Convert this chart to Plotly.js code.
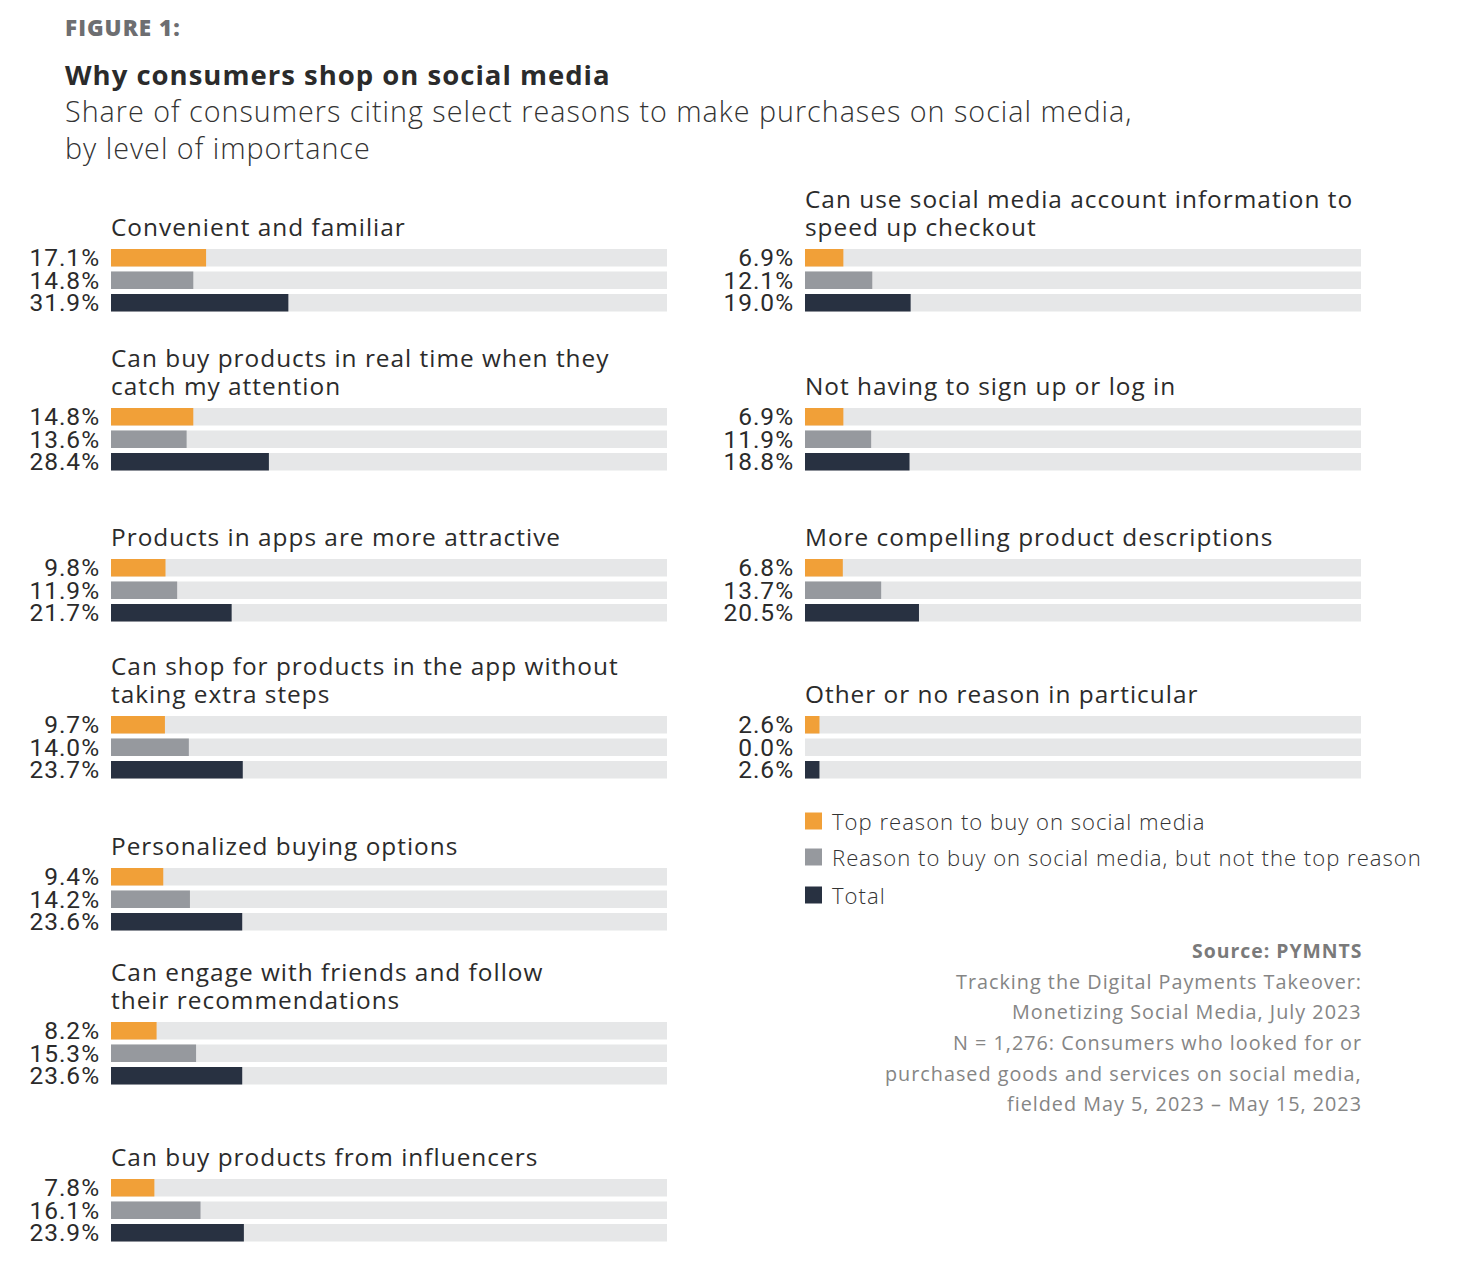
<!DOCTYPE html>
<html><head><meta charset="utf-8">
<script src="https://cdn.plot.ly/plotly-3.0.1.min.js"></script>
<style>html,body{margin:0;padding:0;background:#fff}#chart{width:1460px;height:1270px}
svg text{letter-spacing:1px}</style>
</head><body><div id="chart"></div>
<script>
// ---------- DATA ----------
const reasons = [
  "Convenient and familiar",
  "Can buy products in real time when they\ncatch my attention",
  "Products in apps are more attractive",
  "Can shop for products in the app without\ntaking extra steps",
  "Personalized buying options",
  "Can engage with friends and follow\ntheir recommendations",
  "Can buy products from influencers",
  "Can use social media account information to\nspeed up checkout",
  "Not having to sign up or log in",
  "More compelling product descriptions",
  "Other or no reason in particular"
];
const topReason    = [17.1, 14.8, 9.8, 9.7, 9.4, 8.2, 7.8, 6.9, 6.9, 6.8, 2.6];
const notTopReason = [14.8, 13.6, 11.9, 14.0, 14.2, 15.3, 16.1, 12.1, 11.9, 13.7, 0.0];
const totalShare   = [31.9, 28.4, 21.7, 23.7, 23.6, 23.6, 23.9, 19.0, 18.8, 20.5, 2.6];
const seriesNames  = ["Top reason to buy on social media",
                      "Reason to buy on social media, but not the top reason",
                      "Total"];
const fullScale = 100;
const sourceLines = [
  "Tracking the Digital Payments Takeover:",
  "Monetizing Social Media, July 2023",
  "N = 1,276: Consumers who looked for or",
  "purchased goods and services on social media,",
  "fielded May 5, 2023 \u2013 May 15, 2023"
];

// ---------- STYLE / LAYOUT ----------
const W = 1460, H = 1270;
const seriesColors = ["#F1A038", "#96999E", "#283141"];
const trackColor = "#E6E7E8";
const TXT = "'Open Sans', Roboto, sans-serif";
const NUM = "Roboto, 'Open Sans', sans-serif";
const colX = [[111, 667], [805, 1361]];
const panelCol = [0,0,0,0,0,0,0,1,1,1,1];
const panelTopPx = [249,408,559,716,868,1022,1179,249,408,559,716];
const pitch = 22.5;

const px = x => x / W;
const py = y => 1 - y / H;

const data = [];
const layout = {
  width: W, height: H,
  margin: {l:0, r:0, t:0, b:0},
  paper_bgcolor: "#fff", plot_bgcolor: "rgba(0,0,0,0)",
  showlegend: false,
  barmode: "overlay",
  bargap: 0.22,
  annotations: [], shapes: [],
  font: {family: TXT, color: "#2b2b2b"}
};

reasons.forEach((name, i) => {
  const k = i + 1;
  const xa = "x" + (k === 1 ? "" : k), ya = "y" + (k === 1 ? "" : k);
  const xKey = "xaxis" + (k === 1 ? "" : k), yKey = "yaxis" + (k === 1 ? "" : k);
  const vals = [topReason[i], notTopReason[i], totalShare[i]];
  const [x0, x1] = colX[panelCol[i]];
  const top = panelTopPx[i] - (pitch - 17.5) / 2;
  const bottom = top + 3 * pitch;

  data.push({
    type: "bar", orientation: "h", xaxis: xa, yaxis: ya,
    x: vals.map(() => fullScale), y: [0,1,2],
    marker: {color: trackColor, line: {width: 0}}, hoverinfo: "skip"
  });
  data.push({
    type: "bar", orientation: "h", xaxis: xa, yaxis: ya,
    x: vals, y: [0,1,2], name: name.replace("\n", " "),
    marker: {color: seriesColors, line: {width: 0}},
    hovertemplate: "%{x:.1f}%<extra></extra>"
  });

  layout[xKey] = {
    domain: [px(x0), px(x1)], range: [0, fullScale], anchor: ya,
    showgrid: false, zeroline: false, showticklabels: false, showline: false, fixedrange: true
  };
  layout[yKey] = {
    domain: [py(bottom), py(top)], range: [2.5, -0.5], anchor: xa,
    tickvals: [0,1,2], ticktext: vals.map(v => v.toFixed(1) + "%"),
    ticks: "outside", ticklen: 5, tickcolor: "rgba(0,0,0,0)",
    tickfont: {family: NUM, size: 24.5, color: "#2b2b2b"},
    showgrid: false, zeroline: false, showline: false, fixedrange: true
  };

  const lines = name.split("\n");
  lines.forEach((ln, j) => {
    layout.annotations.push({
      text: ln, xref: "paper", yref: "paper",
      x: px(x0 - 2), y: py(panelTopPx[i] - 22.5 - (lines.length - 1 - j) * 28),
      xanchor: "left", yanchor: "middle", showarrow: false,
      font: {family: TXT, size: 24.4, color: "#2b2b2b"}
    });
  });
});

// Header
layout.annotations.push(
  {text: "FIGURE 1:", xref:"paper", yref:"paper", x: px(63), y: py(27), xanchor:"left", yanchor:"middle",
   showarrow:false, font:{family: TXT, size: 22.5, weight: 800, color:"#6D6E71"}},
  {text: "Why consumers shop on social media", xref:"paper", yref:"paper", x: px(63), y: py(74.5),
   xanchor:"left", yanchor:"middle", showarrow:false, font:{family: TXT, size: 27.5, weight: 700, color:"#2B2B2B"}},
  {text: "Share of consumers citing select reasons to make purchases on social media,", xref:"paper", yref:"paper",
   x: px(63), y: py(110.5), xanchor:"left", yanchor:"middle", showarrow:false,
   font:{family: TXT, size: 28.7, weight: 300, color:"#333333"}},
  {text: "by level of importance", xref:"paper", yref:"paper",
   x: px(63), y: py(147.5), xanchor:"left", yanchor:"middle", showarrow:false,
   font:{family: TXT, size: 28.7, weight: 300, color:"#333333"}}
);

// Legend (custom)
const legendY = [821, 857, 895];
seriesNames.forEach((s, j) => {
  layout.shapes.push({type:"rect", xref:"paper", yref:"paper",
    x0: px(805), x1: px(822), y0: py(legendY[j] + 8.5), y1: py(legendY[j] - 8.5),
    fillcolor: seriesColors[j], line:{width:0}});
  layout.annotations.push({text: s, xref:"paper", yref:"paper", x: px(830), y: py(legendY[j]),
    xanchor:"left", yanchor:"middle", showarrow:false,
    font:{family: TXT, size: 22.1, weight: 300, color:"#333333"}});
});

// Source
layout.annotations.push({text: "Source: PYMNTS", xref:"paper", yref:"paper", x: px(1364), y: py(950),
  xanchor:"right", yanchor:"middle", showarrow:false, font:{family: TXT, size: 19.4, weight: 700, color:"#7A7A7A"}});
sourceLines.forEach((t, j) => {
  layout.annotations.push({text: t, xref:"paper", yref:"paper", x: px(1364), y: py(981 + j * 30.7),
    xanchor:"right", yanchor:"middle", showarrow:false, font:{family: TXT, size: 19.8, color:"#858585"}});
});

Plotly.newPlot("chart", data, layout, {displayModeBar: false, staticPlot: true});
</script>
</body></html>
